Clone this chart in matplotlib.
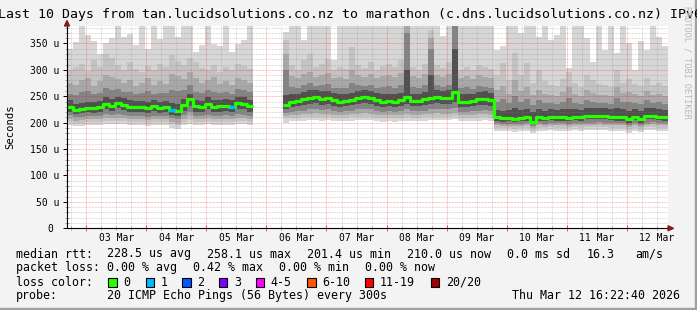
import matplotlib
matplotlib.use('Agg')
import matplotlib.pyplot as plt
import numpy as np
from matplotlib.patches import Rectangle, Polygon
from matplotlib.transforms import blended_transform_factory

# Image size in pixels (dpi 100)
W, H = 697, 310
mono = 'DejaVu Sans Mono'

# ---- data: one column every 2.4 hours, starting Mar 2 16:22:40 ----
step_hours = 2.4
first_midnight = 7.6222  # hours from start to Mar 3 00:00
day_labels = ['03 Mar', '04 Mar', '05 Mar', '06 Mar', '07 Mar',
              '08 Mar', '09 Mar', '10 Mar', '11 Mar', '12 Mar']

N = None
median = [230, 224, 226, 228, 227, 229, 236, 232, 237, 234, 230, 229, 229, 227, 231, 228,
          229, 224, 222, 233, 244, 231, 229, 236, 230, 231, 232, 230, 237, 236, 231,
          N, N, N, N, N,
          233, 240, 241, 244, 247, 248, 245, 246, 242, 240, 241, 243, 246, 248, 246, 242,
          240, 241, 240, 242, 249, 241, 241, 244, 247, 248, 246, 247, 258, 240, 240, 241,
          244, 245, 243,
          210, 208, 209, 207, 209, 210, 202, 210, 209, 211, 210, 210, 209, 211, 210, 212,
          212, 213, 212, 211, 210, 210, 206, 211, 207, 212, 213, 211, 210]
loss = [0, 0, 0, 0, 0, 0, 0, 0, 0, 0, 0, 0, 0, 0, 0, 0, 0, 1, 0, 0, 0, 0, 0, 0,
        0, 0, 0, 1, 0, 0, 0,
        N, N, N, N, N,
        0, 0, 0, 0, 0, 0, 0, 0, 0, 0, 0, 0, 0, 0, 0, 0, 0, 0, 0, 0, 0, 0, 0, 0, 0, 0, 0,
        0, 0, 0, 0, 0, 0, 0, 0,
        0, 0, 0, 0, 0, 0, 0, 0, 0, 0, 0, 0, 0, 0, 0, 0, 0, 0, 0, 0, 0, 0, 0, 0, 0, 0, 0,
        0, 0]
ping_max = [340, 352, 400, 366, 355, 330, 350, 360, 400, 362, 368, 347, 400, 340, 400, 358,
            400, 400, 362, 400, 400, 334, 347, 400, 348, 346, 400, 333, 348, 356, 400,
            N, N, N, N, N,
            372, 400, 400, 356, 400, 400, 400, 400, 319, 400, 400, 400, 400, 400, 400, 400,
            400, 400, 400, 400, 400, 400, 400, 400, 400, 400, 365, 400, 400, 400, 400, 400,
            400, 400, 400,
            338, 345, 400, 400, 370, 400, 400, 363, 400, 356, 366, 400, 303, 400, 400, 360,
            315, 400, 338, 400, 332, 400, 350, 300, 355, 338, 400, 362, 345]
p90 = [300, 305, 312, 298, 318, 306, 330, 322, 310, 300, 315, 302, 296, 308, 300, 312,
       305, 328, 316, 310, 322, 314, 304, 300, 310, 296, 305, 300, 312, 308, 302,
       N, N, N, N, N,
       356, 310, 300, 318, 330, 305, 312, 320, 300, 306, 302, 343, 310, 304, 315, 300,
       308, 312, 305, 318, 400, 306, 300, 312, 375, 310, 304, 315, 400, 300, 306, 300,
       310, 305, 302,
       290, 313, 280, 332, 290, 313, 275, 300, 278, 272, 270, 282, 296, 275, 268, 290,
       280, 274, 272, 268, 300, 276, 282, 274, 270, 284, 272, 276, 270]
p80 = [276, 272, 280, 284, 270, 278, 290, 286, 282, 275, 280, 270, 276, 284, 272, 278,
       274, 292, 288, 282, 296, 284, 276, 280, 286, 274, 278, 272, 284, 280, 276,
       N, N, N, N, N,
       330, 288, 284, 292, 296, 286, 290, 294, 284, 286, 282, 300, 290, 286, 292, 284,
       288, 290, 286, 294, 383, 288, 284, 292, 360, 290, 286, 292, 400, 284, 288, 282,
       290, 286, 284,
       262, 270, 255, 280, 260, 268, 252, 262, 254, 252, 250, 258, 268, 254, 250, 262,
       256, 252, 252, 250, 268, 256, 258, 254, 250, 260, 252, 254, 250]
p70 = [255, 252, 258, 260, 254, 257, 266, 262, 264, 258, 258, 254, 256, 260, 255, 256,
       256, 262, 260, 262, 272, 258, 256, 262, 258, 256, 258, 255, 264, 262, 258,
       N, N, N, N, N,
       300, 268, 266, 272, 276, 270, 272, 274, 266, 266, 265, 276, 272, 270, 272, 266,
       268, 270, 266, 272, 370, 268, 266, 272, 340, 272, 268, 272, 400, 266, 268, 264,
       270, 268, 266,
       240, 244, 238, 250, 240, 244, 234, 242, 238, 238, 236, 240, 246, 238, 236, 242,
       240, 238, 238, 236, 246, 240, 240, 238, 236, 242, 238, 240, 236]
p60 = [242, 236, 238, 240, 239, 241, 248, 244, 249, 246, 242, 241, 241, 239, 243, 240,
       241, 238, 236, 245, 255, 243, 241, 248, 242, 243, 244, 242, 249, 248, 243,
       N, N, N, N, N,
       252, 254, 255, 258, 261, 262, 259, 260, 256, 254, 255, 257, 260, 262, 260, 256,
       254, 255, 254, 256, 300, 255, 255, 258, 290, 262, 260, 261, 340, 254, 254, 255,
       258, 259, 257,
       224, 223, 224, 228, 224, 226, 220, 225, 223, 225, 224, 225, 226, 225, 224, 227,
       227, 228, 227, 225, 228, 225, 222, 226, 222, 227, 228, 226, 224]
p40 = [221, 216, 218, 220, 219, 221, 226, 223, 227, 224, 221, 220, 220, 218, 222, 219,
       220, 215, 212, 223, 232, 221, 220, 225, 220, 221, 222, 220, 226, 225, 221,
       N, N, N, N, N,
       226, 230, 231, 233, 236, 237, 234, 235, 232, 230, 231, 233, 235, 237, 235, 232,
       230, 231, 230, 232, 236, 231, 231, 233, 236, 237, 235, 236, 240, 230, 230, 231,
       233, 234, 232,
       204, 202, 203, 201, 203, 204, 197, 204, 203, 205, 204, 204, 203, 205, 204, 206,
       206, 207, 206, 205, 204, 204, 199, 205, 200, 206, 207, 205, 204]
p30 = [214, 210, 211, 213, 212, 213, 216, 214, 216, 215, 213, 212, 212, 211, 213, 212,
       213, 208, 206, 214, 220, 213, 212, 215, 212, 213, 214, 212, 216, 215, 213,
       N, N, N, N, N,
       219, 221, 222, 223, 225, 226, 224, 225, 222, 221, 222, 223, 225, 226, 225, 222,
       221, 222, 221, 222, 225, 222, 222, 223, 225, 226, 225, 225, 228, 221, 221, 222,
       223, 224, 222,
       199, 198, 198, 197, 198, 199, 193, 199, 198, 200, 199, 199, 198, 200, 199, 200,
       200, 201, 200, 199, 199, 199, 195, 199, 196, 200, 201, 199, 199]
p20 = [207, 204, 205, 207, 206, 207, 209, 208, 209, 208, 207, 206, 206, 205, 207, 206,
       207, 202, 200, 207, 212, 207, 206, 208, 206, 207, 207, 206, 209, 208, 207,
       N, N, N, N, N,
       213, 214, 215, 216, 217, 218, 216, 217, 215, 214, 215, 216, 217, 218, 217, 215,
       214, 215, 214, 215, 217, 215, 215, 216, 217, 218, 217, 217, 219, 214, 214, 215,
       216, 217, 215,
       195, 194, 194, 193, 194, 195, 189, 195, 194, 196, 195, 195, 194, 196, 195, 196,
       196, 197, 196, 195, 195, 195, 191, 195, 192, 196, 197, 195, 195]
p10 = [202, 200, 200, 202, 201, 202, 204, 203, 204, 203, 202, 201, 201, 200, 202, 201,
       202, 197, 195, 202, 205, 202, 201, 203, 201, 202, 202, 201, 204, 203, 202,
       N, N, N, N, N,
       208, 209, 209, 210, 211, 211, 210, 211, 209, 209, 209, 210, 211, 211, 211, 209,
       208, 209, 208, 209, 211, 209, 209, 210, 211, 211, 211, 211, 212, 209, 209, 209,
       210, 211, 209,
       190, 189, 189, 188, 189, 190, 185, 190, 189, 191, 190, 190, 189, 191, 190, 191,
       191, 192, 191, 190, 190, 190, 186, 190, 187, 191, 192, 190, 190]
ping_min = [196, 193, 194, 196, 195, 196, 198, 197, 198, 197, 196, 195, 195, 194, 196, 195,
            196, 190, 188, 196, 198, 196, 195, 197, 195, 196, 196, 195, 198, 197, 196,
            N, N, N, N, N,
            200, 203, 203, 204, 205, 205, 204, 205, 203, 203, 203, 204, 205, 205, 205, 203,
            202, 203, 202, 203, 204, 203, 203, 204, 205, 205, 205, 205, 206, 203, 203, 203,
            204, 205, 203,
            185, 184, 184, 183, 184, 185, 180, 185, 184, 186, 185, 185, 184, 186, 185, 186,
            186, 187, 186, 185, 185, 185, 181, 185, 182, 186, 187, 185, 185]

loss_names = ['0', '1', '2', '3', '4-5', '6-10', '11-19', '20/20']
loss_colors = ['#26ff00', '#00b8ff', '#0059ff', '#7e00ff', '#ff00ff', '#ff5500', '#ff0000', '#a10000']

# legend text
title = 'Last 10 Days from tan.lucidsolutions.co.nz to marathon (c.dns.lucidsolutions.co.nz) IPv6'
rtt_stats = ['228.5 us avg', '258.1 us max', '201.4 us min', '210.0 us now', '0.0 ms sd', '16.3', 'am/s']
loss_stats = ['0.00 % avg', '0.42 % max', '0.00 % min', '0.00 % now']
probe_text = '20 ICMP Echo Pings (56 Bytes) every 300s'
stamp = 'Thu Mar 12 16:22:40 2026'


def arr(v):
    return np.array([np.nan if x is None else x for x in v], dtype=float)


def fx(px):
    return px / W


def fy(py):
    return 1 - py / H


def col_runs(values):
    ok = ~np.isnan(values)
    runs, i = [], 0
    while i < len(values):
        if ok[i]:
            j = i
            while j + 1 < len(values) and ok[j + 1]:
                j += 1
            runs.append((i, j))
            i = j + 1
        else:
            i += 1
    return runs


med = arr(median)
edges = np.arange(len(med) + 1) * step_hours

fig = plt.figure(figsize=(W / 100, H / 100), dpi=100)
fig.patch.set_facecolor('#f3f3f3')
ax = fig.add_axes([fx(67), fy(228.3), fx(668) - fx(67), fy(26) - fy(228.3)])
ax.set_facecolor('white')
ax.set_xlim(0, 240)
ax.set_ylim(0, 383)

# smoke layers, outer (light) to inner (dark)
layers = [(ping_min, ping_max, '#d6d6d6'), (p10, p90, '#c3c3c3'), (p20, p80, '#a8a8a8'),
          (p30, p70, '#848484'), (p40, p60, '#505050')]
runs = col_runs(med)
for lo, hi, color in layers:
    lo, hi = arr(lo), arr(hi)
    for a, b in runs:
        xs = edges[a:b + 2]
        ax.fill_between(xs, np.append(lo[a:b + 1], lo[b]), np.append(hi[a:b + 1], hi[b]),
                        step='post', color=color, lw=0, zorder=1)

# grid lines (drawn over the smoke, like rrdtool)
dots = (0, (0.72, 0.72))
for v in range(10, 383, 10):
    if v % 50:
        ax.axhline(v, color=(0.5, 0.5, 0.5, 0.35), lw=0.72, ls=dots, zorder=2)
    else:
        ax.axhline(v, color=(1, 0, 0, 0.35), lw=0.72, ls=dots, zorder=2)
minor_x = np.arange(first_midnight - 6, 240, 6)
for t in minor_x:
    if t <= 0:
        continue
    major = abs(((t - first_midnight) / 24) - round((t - first_midnight) / 24)) < 1e-6
    c = (1, 0, 0, 0.35) if major else (0.5, 0.5, 0.5, 0.35)
    ax.axvline(t, color=c, lw=0.72, ls=dots, zorder=2)

# median line coloured by loss
ls_arr = arr(loss)
for a, b in runs:
    xs = edges[a:b + 2]
    ax.plot(xs, np.append(med[a:b + 1], med[b]), drawstyle='steps-post',
            color=loss_colors[0], lw=2.3, solid_capstyle='butt', zorder=3)
for i, l in enumerate(ls_arr):
    if not np.isnan(l) and l > 0:
        ax.hlines(med[i], edges[i], edges[i + 1], color=loss_colors[int(l)], lw=2.3, zorder=4)

# axes and ticks
for s in ['top', 'right']:
    ax.spines[s].set_visible(False)
for s in ['left', 'bottom']:
    ax.spines[s].set_linewidth(0.8)
    ax.spines[s].set_zorder(5)
ax.set_yticks(np.arange(0, 351, 50))
ax.set_yticklabels(['0 '] + ['%d u' % v for v in range(50, 351, 50)])
ax.set_yticks(np.arange(0, 383, 10), minor=True)
midnights = first_midnight + 24 * np.arange(10)
ax.set_xticks(midnights)
ax.set_xticklabels([])
ax.set_xticks(minor_x[minor_x > 0], minor=True)
ax.tick_params(axis='y', which='major', direction='out', length=2.8, width=0.7, pad=2.6,
               labelsize=7.05)
ax.tick_params(axis='both', which='minor', direction='inout', length=2.5, width=0.6, color='#999999')
ax.tick_params(axis='x', which='major', direction='inout', length=4, width=0.7, color='#cc6666')
for lab in ax.get_yticklabels():
    lab.set_family(mono)

# day labels, centred on noon of each day
tr = blended_transform_factory(ax.transData, fig.transFigure)
for t, lab in zip(midnights + 12, day_labels):
    ax.text(t, fy(240.7), lab, transform=tr, ha='center', va='baseline',
            fontsize=7.05, family=mono, clip_on=False)

# axis arrows
ax_arrow = '#8b1a1a'
fig.add_artist(Polygon([[fx(64.5), fy(26)], [fx(69.5), fy(26)], [fx(67), fy(20.5)]],
                       closed=True, color=ax_arrow, transform=fig.transFigure))
fig.add_artist(Polygon([[fx(668), fy(225.8)], [fx(668), fy(230.8)], [fx(673.5), fy(228.3)]],
                       closed=True, color=ax_arrow, transform=fig.transFigure))

# title and side texts
fig.text(fx(-2), fy(18.3), title, ha='left', va='baseline', fontsize=9.57, family=mono)
fig.text(fx(10.5), fy(127), 'Seconds', rotation=90, ha='center', va='center',
         fontsize=7.6, family=mono)
fig.text(fx(686.5), fy(62), 'RRDTOOL / TOBI OETIKER', rotation=270, ha='center', va='center',
         fontsize=6.1, family=mono, color='#b8b8b8')

# legend rows
lfs = 8.37
rows_y = [257.5, 271.3, 285.5, 299.0]
fig.text(fx(16), fy(rows_y[0]), 'median rtt:', fontsize=lfs, family=mono, va='baseline')
for x, s in zip([107.3, 207.3, 307.3, 407.3, 507.3, 586.7, 635], rtt_stats):
    fig.text(fx(x), fy(rows_y[0]), s, fontsize=lfs, family=mono, va='baseline')
fig.text(fx(16), fy(rows_y[1]), 'packet loss:', fontsize=lfs, family=mono, va='baseline')
for x, s in zip([107.3, 193.3, 279.3, 365], loss_stats):
    fig.text(fx(x), fy(rows_y[1]), s, fontsize=lfs, family=mono, va='baseline')
fig.text(fx(16), fy(rows_y[2]), 'loss color:', fontsize=lfs, family=mono, va='baseline')
for x, name, c in zip([108.3, 145.7, 182.3, 219, 255.7, 307.3, 365, 430.7], loss_names, loss_colors):
    fig.add_artist(Rectangle((fx(x), fy(286.7)), 8.3 / W, 9 / H, facecolor=c, edgecolor='black',
                             lw=0.8, transform=fig.transFigure))
    fig.text(fx(x + 15), fy(rows_y[2]), name, fontsize=lfs, family=mono, va='baseline')
fig.text(fx(16), fy(rows_y[3]), 'probe:', fontsize=lfs, family=mono, va='baseline')
fig.text(fx(107.3), fy(rows_y[3]), probe_text, fontsize=lfs, family=mono, va='baseline')
fig.text(fx(680), fy(rows_y[3]), stamp, fontsize=lfs, family=mono, va='baseline', ha='right')

# image frame
fig.add_artist(Rectangle((fx(694.5), 0), 2.5 / W, 1, color='#a0a0a0', transform=fig.transFigure))
fig.add_artist(Rectangle((0, 0), 1, 2.5 / H, color='#a0a0a0', transform=fig.transFigure))

fig.savefig('out.png', dpi=100, facecolor=fig.get_facecolor())
